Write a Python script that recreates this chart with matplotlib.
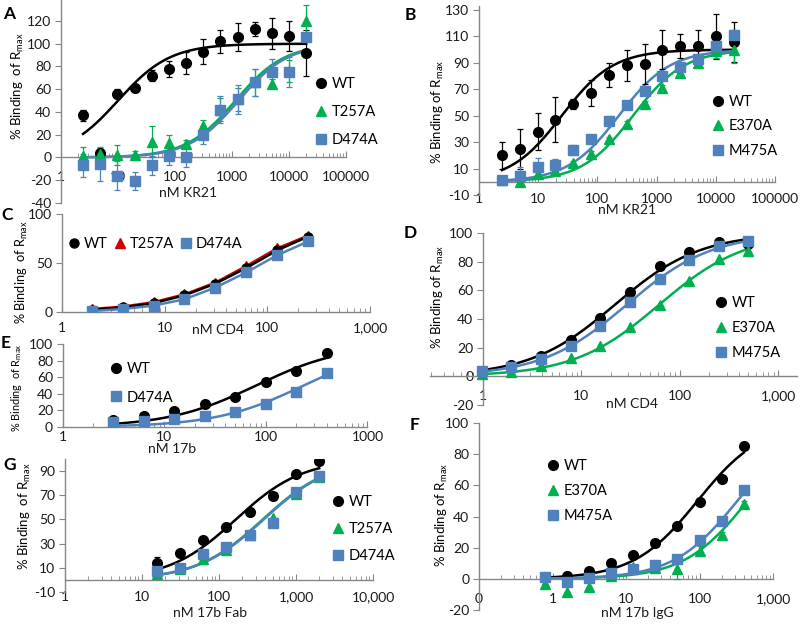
import numpy as np
import matplotlib
matplotlib.use('Agg')
import matplotlib.pyplot as plt
from matplotlib.ticker import FixedLocator, LogLocator, NullFormatter

plt.rcParams['font.family'] = ['Lato', 'DejaVu Sans']
plt.rcParams['axes.unicode_minus'] = False
plt.rcParams['mathtext.default'] = 'regular'

# ---- data ----
kr21 = [2.44, 4.88, 9.77, 19.5, 39.1, 78.1, 156, 312, 625, 1250, 2500, 5000, 10000, 20000]

a_wt = [37, 4, 56, 61, 72, 78, 83, 93, 102, 106, 113, 109, 107, 92]
a_wt_err = [5, 3, 4, 2, 5, 7, 10, 11, 10, 12, 6, 14, 13, 20]
a_t257a = [1, 3, 2, 2, 14, 13, 12, 28, 42, 51, 66, 65, 76, 120]
a_t257a_err = [8, 5, 9, 4, 14, 7, 3, 5, 10, 10, 12, 4, 10, 14]
a_d474a = [-7, -6, -16, -21, -7, 1, 0, 20, 42, 51, 66, 75, 75, 106]
a_d474a_err = [10, 15, 13, 8, 8, 8, 8, 8, 12, 13, 12, 12, 13, 3]

b_wt = [20, 25, 38, 47, 59, 67, 81, 88, 89, 100, 103, 103, 110, 106]
b_wt_err = [10, 15, 14, 17, 4, 10, 9, 12, 15, 15, 9, 12, 17, 15]
b_e370a = [1, 0, 6, 8, 14, 21, 32, 44, 59, 71, 82, 90, 99, 100]
b_e370a_err = [1, 3, 2, 2, 2, 2, 2, 2, 2, 2, 3, 2, 5, 10]
b_m475a = [1, 4, 11, 13, 24, 32, 46, 58, 69, 80, 87, 93, 103, 111]
b_m475a_err = [1, 7, 7, 4, 4, 3, 4, 3, 2, 2, 2, 2, 2, 4]

cd4_c = [1.95, 3.9, 7.8, 15.6, 31.25, 62.5, 125, 250]
c_wt = [2.4, 4.8, 9, 17, 29, 45, 63, 77]
c_t257a = [3, 5.5, 10, 18, 30, 47, 65, 78]
c_d474a = [1, 3, 6.5, 13, 25, 40.5, 58, 72]

cd4_d = [0.98, 1.95, 3.9, 7.8, 15.6, 31.25, 62.5, 125, 250, 500]
d_wt = [3.5, 8, 14.5, 25.5, 41, 59, 77, 87, 94, 92.5]
d_e370a = [1.5, 3, 7, 12.8, 21.4, 34.4, 50, 66.7, 82, 87.7]
d_m475a = [3.5, 6.5, 12, 21.4, 35, 52, 68, 81, 90.7, 94.6]

ab17b = [3.125, 6.25, 12.5, 25, 50, 100, 200, 400]
e_wt = [8, 13, 19, 28, 36, 54, 68, 89]
e_d474a = [6, 7, 10, 13, 18, 28, 42, 65]

igg17b = [0.78, 1.56, 3.125, 6.25, 12.5, 25, 50, 100, 200, 400]
f_wt = [1, 2, 5, 10, 15, 23, 34, 49, 64, 85]
f_e370a = [-3, -8.5, -5, 2, 7.5, 7, 6, 18, 28, 48]
f_e370a_err = [0, 0, 0, 0, 0, 0, 6, 3, 2, 2]
f_m475a = [1, -2, 0.5, 3.6, 6, 9, 13, 25, 37, 57]

fab17b = [15.6, 31.25, 62.5, 125, 250, 500, 1000, 2000]
g_wt = [13.6, 22, 33.4, 44, 56, 69, 88, 98]
g_wt_err = [5.5, 0, 0, 0, 0, 0, 0, 0]
g_t257a = [4.8, 9, 17, 24.5, 37.5, 51.5, 70.7, 85]
g_d474a = [7.3, 10, 21.8, 27, 37, 47, 73, 86]
g_d474a_err = [0, 0, 0, 0, 0, 0, 3, 0]

# fitted dose-response parameters (EC50 nM, Hill slope)
fits = {
    'A': {'WT': (10, 0.95), 'T257A': (1150, 1.0), 'D474A': (1300, 1.0)},
    'B': {'WT': (25, 1.0), 'E370A': (400, 1.0), 'M475A': (230, 1.0)},
    'D': {'WT': (22, 1.0), 'E370A': (62, 1.0), 'M475A': (29, 1.0)},
    'E': {'WT': (80, 1.0), 'D474A': (235, 1.0)},
    'F': {'WT': (94, 1.0), 'E370A': (451, 1.0), 'M475A': (327, 1.0)},
    'G': {'WT': (165, 1.0), 'T257A': (370, 1.0), 'D474A': (380, 1.0)},
}

BLACK = '#000000'
GREEN = '#00B050'
BLUE = '#4F81BD'
RED = '#D00000'
AXC = '#868686'

W, H = 800, 624
fig = plt.figure(figsize=(8, 6.24), dpi=100)


def box(l, r, t, b):
    return [l / W, 1 - b / H, (r - l) / W, (b - t) / H]


def hill(x, ec50, n, top=100):
    x = np.asarray(x, float)
    return top * x**n / (ec50**n + x**n)


def setup(ax, xlim, ylim, yticks, xticks, xlabels, zero_spine=True, ycross=None, pad=6):
    ax.set_xscale('log')
    ax.set_xlim(*xlim)
    ax.set_ylim(*ylim)
    for s in ['top', 'right']:
        ax.spines[s].set_visible(False)
    for s in ['left', 'bottom']:
        ax.spines[s].set_color(AXC)
        ax.spines[s].set_linewidth(1)
    if zero_spine:
        ax.spines['bottom'].set_position(('data', 0))
    if ycross is not None:
        ax.spines['left'].set_position(('data', ycross))
    ax.xaxis.set_major_locator(FixedLocator(xticks))
    ax.set_xticklabels(xlabels)
    ax.xaxis.set_minor_locator(LogLocator(base=10, subs=np.arange(2, 10), numticks=20))
    ax.xaxis.set_minor_formatter(NullFormatter())
    ax.set_yticks(yticks)
    ax.tick_params(axis='x', which='major', direction='in', length=4, color=AXC,
                   labelsize=10, pad=pad, labelcolor='#1a1a1a')
    ax.tick_params(axis='x', which='minor', direction='in', length=3, color=AXC)
    ax.tick_params(axis='y', direction='out', length=4, color=AXC, labelsize=10,
                   labelcolor='#1a1a1a', pad=3)
    ax.patch.set_alpha(0)


def ylabel(ax, text, xpx, ycen, size=9.5):
    ax.set_ylabel(text, fontsize=size)
    ax.yaxis.label.set_va('center')
    ax.yaxis.set_label_coords(xpx / W, 1 - ycen / H, transform=fig.transFigure)


def xlabel(text, xpx, ypx):
    fig.text(xpx / W, 1 - ypx / H, text, fontsize=10, ha='center', va='center', color='#1a1a1a')


def letter(text, xpx, ypx):
    fig.text(xpx / W, 1 - ypx / H, text, fontsize=12.5, fontweight='bold', ha='center', va='center')


def curve(ax, x, params, color):
    xs = np.logspace(np.log10(x[0]), np.log10(x[-1]), 200)
    ax.plot(xs, hill(xs, *params), color=color, lw=1.8, zorder=2)


def pts(ax, x, y, marker, color, label, err=None, ms=7):
    if err is not None:
        ax.errorbar(x, y, yerr=err, fmt='none', ecolor=color, elinewidth=0.9, capsize=2.5,
                    capthick=0.9, zorder=3)
    ax.plot(x, y, linestyle='none', marker=marker, color=color, ms=ms, label=label, zorder=4)


def legend(ax, xpx, ypx, spacing=0.9, ncol=1):
    ax.legend(loc='upper left', bbox_to_anchor=(xpx / W, 1 - ypx / H), bbox_transform=fig.transFigure,
              frameon=False, handlelength=0.7, handletextpad=0.35, labelspacing=spacing,
              borderpad=0, borderaxespad=0, fontsize=10.5, numpoints=1, ncol=ncol,
              columnspacing=0.6)


ylab2 = '% Binding  of R$_{max}$'
ylab1 = '% Binding of R$_{max}$'
dec5 = [1, 10, 100, 1000, 10000, 100000]

# ---- A ----
ax = fig.add_axes(box(61, 346, 0.5, 203))
setup(ax, (1, 1e5), (-40, 138), range(-40, 121, 20), dec5, [str(v) for v in dec5], pad=10)
curve(ax, kr21, fits['A']['WT'], BLACK)
curve(ax, kr21, fits['A']['T257A'], GREEN)
curve(ax, kr21, fits['A']['D474A'], BLUE)
pts(ax, kr21, a_wt, 'o', BLACK, 'WT', a_wt_err)
pts(ax, kr21, a_t257a, '^', GREEN, 'T257A', a_t257a_err)
pts(ax, kr21, a_d474a, 's', BLUE, 'D474A', a_d474a_err)
legend(ax, 316, 77, spacing=0.95)
ylabel(ax, ylab2, 18, 86)
xlabel('nM KR21', 188, 193)
letter('A', 9, 14)

# ---- B ----
ax = fig.add_axes(box(479, 775, 6, 195))
setup(ax, (1, 1e5), (-10, 133), range(-10, 131, 20), dec5, [str(v) for v in dec5], pad=8)
curve(ax, kr21, fits['B']['WT'], BLACK)
curve(ax, kr21, fits['B']['E370A'], GREEN)
curve(ax, kr21, fits['B']['M475A'], BLUE)
pts(ax, kr21, b_wt, 'o', BLACK, 'WT', b_wt_err)
pts(ax, kr21, b_e370a, '^', GREEN, 'E370A', b_e370a_err)
pts(ax, kr21, b_m475a, 's', BLUE, 'M475A', b_m475a_err)
legend(ax, 713, 95, spacing=0.72)
ylabel(ax, ylab1, 438, 112)
xlabel('nM KR21', 627, 210)
letter('B', 410, 15)

# ---- C ----
ax = fig.add_axes(box(62, 370, 214, 312))
setup(ax, (1, 1000), (0, 100), [0, 50, 100], [1, 10, 100, 1000], ['1', '10', '100', '1,000'],
      zero_spine=False, pad=7)
ax.plot(cd4_c, c_wt, color=BLACK, lw=1.8, marker='o', ms=6.5, label='WT', zorder=3)
ax.plot(cd4_c, c_t257a, color=RED, lw=1.8, marker='^', ms=6.5, label='T257A', zorder=2)
ax.plot(cd4_c, c_d474a, color=BLUE, lw=1.8, marker='s', ms=6.5, label='D474A', zorder=4)
h, l = ax.get_legend_handles_labels()
ax.legend(h, l, loc='upper left', bbox_to_anchor=(69 / W, 1 - 237 / H), bbox_transform=fig.transFigure,
          frameon=False, handlelength=0.7, handletextpad=0.3, borderpad=0, borderaxespad=0,
          fontsize=10.5, numpoints=1, ncol=3, columnspacing=0.5)
for lh in ax.get_legend().get_lines():
    lh.set_linestyle('none')
ylabel(ax, ylab2, 22, 272, size=9.2)
xlabel('nM CD4', 218, 330)
letter('C', 7, 215)

# ---- D ----
ax = fig.add_axes(box(430, 797, 233, 405))
setup(ax, (0.29, 1560), (-20, 100), range(-20, 101, 20), [1, 10, 100, 1000], ['1', '10', '100', '1,000'],
      ycross=1, pad=10)
curve(ax, cd4_d, fits['D']['WT'], BLACK)
curve(ax, cd4_d, fits['D']['E370A'], GREEN)
curve(ax, cd4_d, fits['D']['M475A'], BLUE)
pts(ax, cd4_d, d_wt, 'o', BLACK, 'WT')
pts(ax, cd4_d, d_e370a, '^', GREEN, 'E370A')
pts(ax, cd4_d, d_m475a, 's', BLUE, 'M475A')
legend(ax, 716, 296, spacing=0.75)
ylabel(ax, ylab1, 438, 297)
xlabel('nM CD4', 632, 404)
letter('D', 410, 233)

# ---- E ----
ax = fig.add_axes(box(62.7, 367.5, 344, 427))
setup(ax, (1, 1000), (0, 100), range(0, 101, 20), [1, 10, 100, 1000], ['1', '10', '100', '1000'],
      zero_spine=False, pad=3)
curve(ax, ab17b, fits['E']['WT'], BLACK)
curve(ax, ab17b, fits['E']['D474A'], BLUE)
pts(ax, ab17b, e_wt, 'o', BLACK, 'WT')
pts(ax, ab17b, e_d474a, 's', BLUE, 'D474A')
legend(ax, 111, 362, spacing=1.0)
ylabel(ax, ylab2, 17, 388, size=7.8)
xlabel('nM 17b', 172, 449)
letter('E', 6, 343)

# ---- F ----
ax = fig.add_axes(box(479, 773, 423, 610))
setup(ax, (0.1, 1000), (-20, 100), range(-20, 101, 20), [0.1, 1, 10, 100, 1000],
      ['0', '1', '10', '100', '1,000'], pad=10)
curve(ax, igg17b, fits['F']['WT'], BLACK)
curve(ax, igg17b, fits['F']['E370A'], GREEN)
curve(ax, igg17b, fits['F']['M475A'], BLUE)
pts(ax, igg17b, f_wt, 'o', BLACK, 'WT')
pts(ax, igg17b, f_e370a, '^', GREEN, 'E370A', f_e370a_err)
pts(ax, igg17b, f_m475a, 's', BLUE, 'M475A')
legend(ax, 548, 459, spacing=0.75)
ylabel(ax, ylab1, 442, 515)
xlabel('nM 17b IgG', 637, 613)
letter('F', 415, 425)

# ---- G ----
ax = fig.add_axes(box(65, 373, 459, 592))
setup(ax, (1, 10000), (-10, 100), range(-10, 91, 20), [1, 10, 100, 1000, 10000],
      ['1', '10', '100', '1,000', '10,000'], pad=8)
curve(ax, fab17b, fits['G']['WT'], BLACK)
curve(ax, fab17b, fits['G']['T257A'], GREEN)
curve(ax, fab17b, fits['G']['D474A'], BLUE)
pts(ax, fab17b, g_wt, 'o', BLACK, 'WT', g_wt_err)
pts(ax, fab17b, g_t257a, '^', GREEN, 'T257A')
pts(ax, fab17b, g_d474a, 's', BLUE, 'D474A', g_d474a_err)
legend(ax, 333, 495, spacing=0.9)
ylabel(ax, ylab2, 25, 516)
xlabel('nM 17b Fab', 210, 613)
letter('G', 10, 465)

fig.savefig('out.png', dpi=100)
